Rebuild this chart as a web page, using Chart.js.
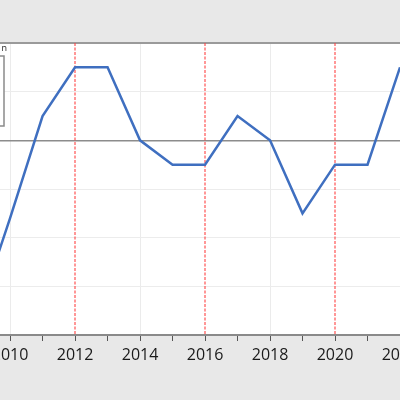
<!DOCTYPE html>
<html>
<head>
<meta charset="utf-8">
<script src="https://cdn.jsdelivr.net/npm/chart.js@4/dist/chart.umd.min.js"></script>
<style>
  html, body { margin: 0; padding: 0; background: #e8e8e8; }
  #wrap { width: 400px; height: 400px; }
</style>
</head>
<body>
<div id="wrap"><canvas id="chart" width="400" height="400"></canvas></div>
<script>
// yearly values
const years = [2009, 2010, 2011, 2012, 2013, 2014, 2015, 2016, 2017, 2018, 2019, 2020, 2021, 2022];
const values = [-3.6, -1.6, 0.5, 1.5, 1.5, 0, -0.5, -0.5, 0.5, 0, -1.5, -0.5, -0.5, 1.5];
// years marked with red dashed lines
const markerYears = [2012, 2016, 2020];
const yMin = -4;
const yMax = 2;
const xMin = 2009.69;
const xMax = 2022;

const points = years.map((y, i) => ({ x: y, y: values[i] }));

const backdrop = {
    id: 'backdrop',
    beforeDraw(chart) {
        const { ctx, chartArea: a } = chart;
        ctx.save();
        ctx.fillStyle = '#e8e8e8';
        ctx.fillRect(0, 0, chart.width, chart.height);
        ctx.fillStyle = '#ffffff';
        ctx.fillRect(a.left, a.top, a.right - a.left, a.bottom - a.top);
        ctx.restore();
    },
    beforeDatasetsDraw(chart) {
        const { ctx, chartArea: a, scales } = chart;
        ctx.save();
        ctx.strokeStyle = 'rgba(255,70,70,0.75)';
        ctx.lineWidth = 1.5;
        ctx.setLineDash([3, 1.5]);
        markerYears.forEach(yr => {
            const px = Math.round(scales.x.getPixelForValue(yr));
            ctx.beginPath();
            ctx.moveTo(px, a.top);
            ctx.lineTo(px, a.bottom);
            ctx.stroke();
        });
        ctx.restore();
    },
    afterDraw(chart) {
        // legend box, mostly off the left edge
        const { ctx } = chart;
        ctx.save();
        ctx.fillStyle = '#ffffff';
        ctx.fillRect(-60, 56, 64, 70);
        ctx.strokeStyle = '#8a8a8a';
        ctx.lineWidth = 1.5;
        ctx.strokeRect(-60, 56, 64, 70);
        ctx.fillStyle = '#222';
        ctx.font = '9px "Open Sans"';
        ctx.textAlign = 'right';
        ctx.textBaseline = 'middle';
        ctx.fillText('n', 7, 48);
        ctx.restore();
    }
};

new Chart(document.getElementById('chart').getContext('2d'), {
    type: 'line',
    data: {
        datasets: [{
            data: points,
            borderColor: '#3f6fc0',
            borderWidth: 2.5,
            pointRadius: 0,
            tension: 0,
            fill: false
        }]
    },
    options: {
        responsive: false,
        animation: false,
        devicePixelRatio: 1,
        layout: { padding: { top: 43, left: 0, right: 0, bottom: 0 } },
        plugins: {
            legend: { display: false },
            tooltip: { enabled: false }
        },
        scales: {
            x: {
                type: 'linear',
                position: 'bottom',
                min: xMin,
                max: xMax,
                afterFit: function(s) { s.height = 65; s.paddingLeft = 0; s.paddingRight = 0; },
                ticks: {
                    stepSize: 1,
                    includeBounds: false,
                    autoSkip: false,
                    maxRotation: 0,
                    padding: 5,
                    color: '#1a1a1a',
                    font: { family: '"Open Sans"', size: 16 },
                    callback: function(v) { return v % 2 === 0 ? String(v) : ''; }
                },
                grid: {
                    color: function(c) {
                        const v = c.tick && c.tick.value;
                        return v % 4 === 2 ? '#ebebeb' : 'rgba(0,0,0,0)';
                    },
                    tickColor: '#555',
                    tickLength: 6,
                    lineWidth: 1
                },
                border: { display: true, color: '#8a8a8a', width: 1.5 }
            },
            y: {
                min: yMin,
                max: yMax,
                afterFit: function(s) { s.width = 0; },
                ticks: { display: false, stepSize: 1 },
                grid: {
                    drawTicks: false,
                    color: function(c) {
                        const v = c.tick && c.tick.value;
                        if (v === 0) return '#8c8c8c';
                        if (v === yMax) return '#9a9a9a';
                        if (v === yMin) return '#8a8a8a';
                        return '#ececec';
                    },
                    lineWidth: function(c) {
                        const v = c.tick && c.tick.value;
                        if (v === 0) return 1.5;
                        if (v === yMax) return 2;
                        return 1;
                    }
                },
                border: { display: false }
            }
        }
    },
    plugins: [backdrop]
});
</script>
</body>
</html>
